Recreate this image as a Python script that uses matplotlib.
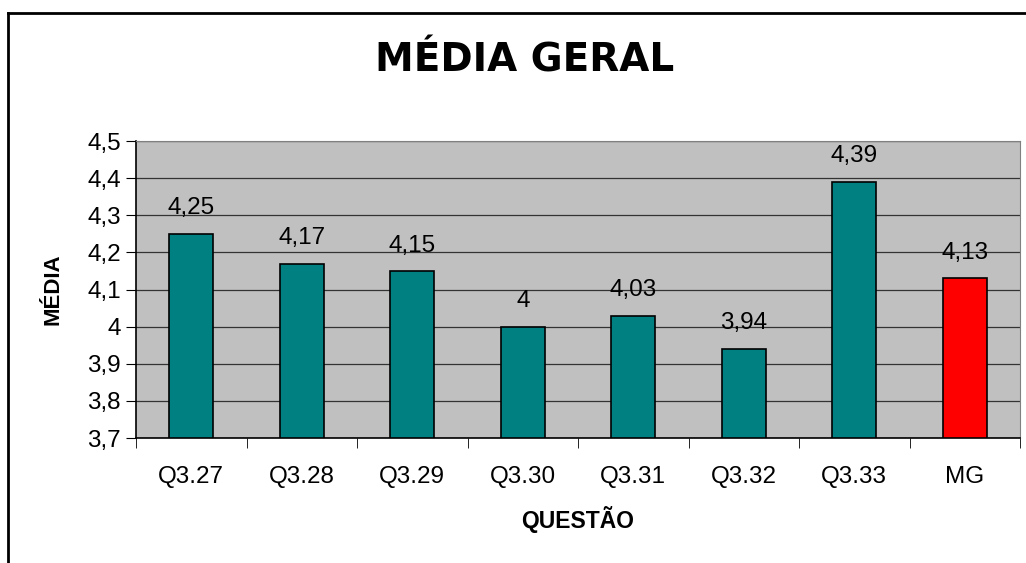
import numpy as np
import matplotlib.pyplot as plt
from matplotlib.lines import Line2D

questoes = ['Q3.27', 'Q3.28', 'Q3.29', 'Q3.30', 'Q3.31', 'Q3.32', 'Q3.33', 'MG']
medias = [4.25, 4.17, 4.15, 4.0, 4.03, 3.94, 4.39, 4.13]
rotulos = ['4,25', '4,17', '4,15', '4', '4,03', '3,94', '4,39', '4,13']
cores = ['#008080'] * 7 + ['#FF0000']
yticks = [3.7, 3.8, 3.9, 4.0, 4.1, 4.2, 4.3, 4.4, 4.5]

plt.rcParams['font.family'] = ['Liberation Sans', 'DejaVu Sans']

fig = plt.figure(figsize=(10.26, 5.63), dpi=100)
ax = fig.add_axes([0.1326, 0.222, 0.8616, 0.5275])
ax.set_facecolor('#C0C0C0')

x = np.arange(len(questoes))
ax.bar(x, [m - 3.7 for m in medias], bottom=3.7, width=0.4, color=cores,
       edgecolor='black', linewidth=1.2, zorder=3)

for xi, m, r in zip(x, medias, rotulos):
    ax.annotate(r, (xi, m), xytext=(0, 14), textcoords='offset points',
                ha='center', va='baseline', fontsize=17.5)

ax.set_xlim(-0.5, len(questoes) - 0.5)
ax.set_ylim(3.7, 4.5)
ax.set_yticks(yticks)
ax.set_yticklabels([('%.1f' % v).replace('.', ',') if v != 4.0 else '4' for v in yticks])
ax.set_xticks(x)
ax.set_xticklabels(questoes)
ax.set_xticks(np.arange(-0.5, len(questoes)), minor=True)
ax.tick_params(axis='x', which='major', length=0, pad=20, labelsize=17.5)
ax.tick_params(axis='x', which='minor', length=7, direction='out')
ax.tick_params(axis='y', length=7, direction='out', labelsize=17.5, pad=4)
ax.yaxis.grid(True, color='#333333', linewidth=0.9, zorder=0)
ax.set_axisbelow(True)

for s in ['top', 'right']:
    ax.spines[s].set_color('#808080')
for s in ['left', 'bottom']:
    ax.spines[s].set_color('black')
    ax.spines[s].set_linewidth(1.2)

ax.set_xlabel('QUESTÃO', fontsize=16.5, fontweight='bold', labelpad=13)
ax.set_ylabel('MÉDIA', fontsize=16, fontweight='bold', labelpad=17)

fig.text(525 / 1026, 1 - 60 / 563, 'MÉDIA GERAL', ha='center', va='center', fontsize=28,
         fontweight='bold', family='DejaVu Sans')

# moldura do gráfico
fig.add_artist(Line2D([8 / 1026, 1.0], [1 - 13 / 563] * 2, color='black', linewidth=2))
fig.add_artist(Line2D([8 / 1026] * 2, [0.0, 1 - 13 / 563], color='black', linewidth=2))

fig.savefig('out.png', dpi=100)
